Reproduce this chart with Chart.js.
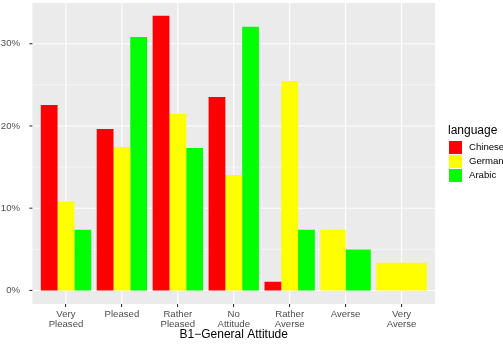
<!DOCTYPE html>
<html>
<head>
<meta charset="UTF-8" />
<title>B1 General Attitude</title>
<script src="https://cdn.jsdelivr.net/npm/chart.js"></script>
<style>
  html, body { margin: 0; padding: 0; background: #fff; }
  #wrap { width: 503px; height: 347px; }
</style>
</head>
<body>
<div id="wrap"><canvas id="c" width="503" height="347"></canvas></div>
<script>
// data (percent of answers per language)
const categories = [["Very", "Pleased"], "Pleased", ["Rather", "Pleased"], ["No", "Attitude"], ["Rather", "Averse"], "Averse", ["Very", "Averse"]];
const languages = ["Chinese", "German", "Arabic"];
const chineseValues = [22.55, 19.64, 33.40, 23.53, 1.06, null, null];
const germanValues = [10.81, 17.45, 21.46, 14.05, 25.47, 7.37, 3.36];
const arabicValues = [7.37, 30.81, 17.33, 32.07, 7.37, 4.98, null];
const languageColors = ["#FF0000", "#FFFF00", "#00FF00"];
const yTicks = [0, 10, 20, 30];
const yMinorTicks = [5, 15, 25];

const FONT = "'Liberation Sans', Arial, Helvetica, sans-serif";

// ggplot-ish panel: grey background, white grid, y tick marks, legend on the right
const ggPanel = {
  id: "ggPanel",
  beforeDraw(chart) {
    const { ctx, chartArea: a, scales: { x, y } } = chart;
    const step = x.getPixelForValue(1) - x.getPixelForValue(0);
    const left = a.left - step * 0.1;
    const right = a.right + step * 0.1;
    const line = (x1, y1, x2, y2) => {
      ctx.beginPath();
      ctx.moveTo(x1, y1);
      ctx.lineTo(x2, y2);
      ctx.stroke();
    };
    ctx.save();
    ctx.fillStyle = "#EBEBEB";
    ctx.fillRect(left, a.top, right - left, a.bottom - a.top);
    ctx.strokeStyle = "#FFFFFF";
    ctx.lineWidth = 0.55;
    yMinorTicks.forEach((v) => {
      const p = y.getPixelForValue(v);
      line(left, p, right, p);
    });
    ctx.lineWidth = 1.1;
    yTicks.forEach((v) => {
      const p = y.getPixelForValue(v);
      line(left, p, right, p);
    });
    categories.forEach((c, i) => {
      const p = x.getPixelForValue(i);
      line(p, a.top, p, a.bottom);
    });
    ctx.strokeStyle = "#333333";
    yTicks.forEach((v) => {
      const p = y.getPixelForValue(v);
      line(left - 3, p, left, p);
    });
    ctx.restore();
  },
  afterDraw(chart) {
    const ctx = chart.ctx;
    ctx.save();
    ctx.fillStyle = "#000000";
    ctx.font = "12px " + FONT;
    ctx.textBaseline = "alphabetic";
    ctx.textAlign = "left";
    ctx.fillText("language", 448, 134);
    ctx.font = "9.6px " + FONT;
    ctx.textBaseline = "middle";
    chart.data.datasets.forEach((ds, i) => {
      ctx.fillStyle = ds.backgroundColor;
      ctx.fillRect(449, 141 + 14 * i, 13, 13);
      ctx.fillStyle = "#000000";
      ctx.fillText(ds.label, 469, 147.7 + 14 * i);
    });
    ctx.restore();
  }
};

const datasets = [chineseValues, germanValues, arabicValues].map((vals, i) => ({
  label: languages[i],
  data: vals,
  backgroundColor: languageColors[i],
  borderWidth: 0,
  skipNull: true,
  categoryPercentage: 0.9,
  barPercentage: 1.0
}));

new Chart(document.getElementById("c"), {
  type: "bar",
  data: { labels: categories, datasets: datasets },
  plugins: [ggPanel],
  options: {
    responsive: false,
    animation: false,
    layout: { padding: { top: 3, right: 73.5, left: 0, bottom: 0 } },
    plugins: { legend: { display: false }, tooltip: { enabled: false } },
    scales: {
      x: {
        offset: true,
        grid: { drawOnChartArea: false, offset: false, tickLength: 3, color: "#333333", lineWidth: 1.1 },
        border: { display: false },
        ticks: {
          color: "#4D4D4D",
          font: { family: FONT, size: 9.6, lineHeight: 1.1 },
          padding: 2,
          maxRotation: 0,
          autoSkip: false
        },
        title: {
          display: true,
          text: "B1\u2212General Attitude",
          color: "#000000",
          font: { family: FONT, size: 12, lineHeight: 1.2 },
          padding: { top: 0, bottom: 5 }
        },
        afterFit(s) {
          s.height = 43;
          s.paddingLeft = 0;
          s.paddingRight = 0;
        }
      },
      y: {
        min: -1.65,
        max: 34.95,
        grid: { display: false },
        border: { display: false },
        ticks: {
          color: "#4D4D4D",
          font: { family: FONT, size: 9.6 },
          padding: 10,
          callback: (v) => v + "%"
        },
        afterBuildTicks(s) { s.ticks = yTicks.map((v) => ({ value: v })); },
        afterFit(s) {
          s.width = 38;
          s.paddingTop = 0;
          s.paddingBottom = 0;
        }
      }
    }
  }
});
</script>
</body>
</html>
